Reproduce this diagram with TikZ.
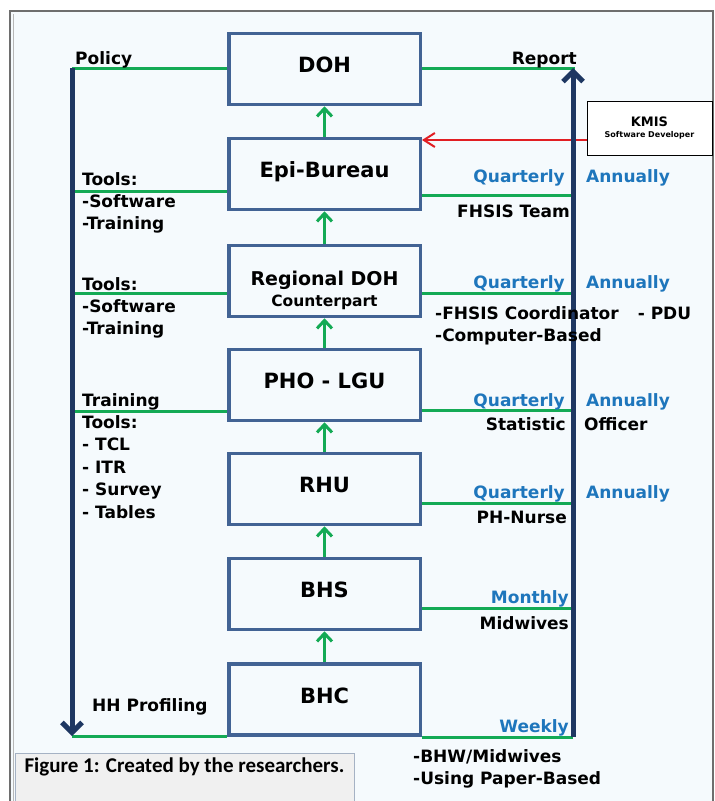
\documentclass[tikz,border=0pt]{standalone}
\usepackage{fontspec}
\setmainfont{DejaVu Sans}
\newfontfamily\capfont{Carlito}
\usetikzlibrary{arrows.meta}
\definecolor{bg}{RGB}{245,250,253}
\definecolor{boxc}{RGB}{66,99,148}
\definecolor{navy}{RGB}{30,55,98}
\definecolor{grn}{RGB}{20,170,85}
\definecolor{qblue}{RGB}{30,118,188}
\definecolor{redc}{RGB}{225,30,35}
\definecolor{framec}{RGB}{110,110,110}
\definecolor{capfill}{RGB}{240,240,240}
\definecolor{capborder}{RGB}{165,178,196}
\begin{document}
\begin{tikzpicture}[x=1pt,y=-1pt,
  level/.style={draw=boxc, line width=3.5pt, minimum width=191.5pt, minimum height=71pt,
    inner sep=0pt, outer sep=1.75pt, text height=16pt, text depth=8.7pt,
    font=\fontsize{21}{25}\selectfont\bfseries},
  gline/.style={draw=grn, line width=3pt},
  garrow/.style={draw=grn, line width=3pt, -{Straight Barb[length=8pt,width=15pt]}},
  navyarrow/.style={draw=navy, line width=5pt, -{Straight Barb[length=10pt,width=20pt]}},
  redarrow/.style={draw=redc, line width=2pt, -{Straight Barb[length=11pt,width=14pt]}},
  lab/.style={inner sep=0pt, font=\fontsize{17}{22.4}\selectfont\bfseries, align=left},
  qlab/.style={lab, text=qblue},
]
\useasboundingbox (0,0) rectangle (715,801);
\fill[white] (0,0) rectangle (715,801);
\fill[bg] (10,11) rectangle (713,801);
\draw[framec, line width=1.5pt] (10,11) rectangle (713,830);
\draw[framec!50, line width=0.7pt] (13.5,14) -- (13.5,801);

% boxes
\node[level] (doh) at (324.5,69) {DOH};
\node[level] (epi) at (324.5,174) {Epi-Bureau};
\node[level] (reg) at (324.5,281) {};
\node[inner sep=0pt, font=\fontsize{19}{22}\selectfont\bfseries, anchor=base] (regt1) at (324.5,285) {Regional DOH};
\node[inner sep=0pt, font=\fontsize{15.5}{20}\selectfont\bfseries, anchor=base] (regt2) at (324.5,306) {Counterpart};
\node[level] (pho) at (324.5,385) {PHO - LGU};
\node[level] (rhu) at (324.5,489) {RHU};
\node[level] (bhs) at (324.5,594) {BHS};
\node[level] (bhc) at (324.5,699.5) {BHC};

% KMIS
\node[draw=black, line width=0.8pt, fill=white, minimum width=125pt, minimum height=54pt,
  inner sep=0pt, align=center] (kmis) at (649.5,128)
  {{\fontsize{13}{15}\selectfont\bfseries KMIS}\\[-1pt]{\fontsize{8}{10}\selectfont\bfseries Software Developer}};

% green up arrows
\draw[garrow] (epi.north) -- (doh.south);
\draw[garrow] (reg.north) -- (epi.south);
\draw[garrow] (pho.north) -- (reg.south);
\draw[garrow] (rhu.north) -- (pho.south);
\draw[garrow] (bhs.north) -- (rhu.south);
\draw[garrow] (bhc.north) -- (bhs.south);

% coordinates on left and right trunks
\coordinate (ltop) at (72,68);
\coordinate (l2) at (72,191);
\coordinate (l3) at (72,293);
\coordinate (l4) at (72,411);
\coordinate (lbot) at (72,736);
\coordinate (rtop) at (575,68);
\coordinate (r2) at (573,195);
\coordinate (r3) at (573,293);
\coordinate (r4) at (573,410);
\coordinate (r5) at (573,503);
\coordinate (r6) at (573,608);
\coordinate (rbot) at (573,737);
\coordinate (kred) at (587,140);

% green branch lines
\draw[gline] (ltop) -- (ltop -| doh.west);
\draw[gline] (l2) -- (l2 -| epi.west);
\draw[gline] (l3) -- (l3 -| reg.west);
\draw[gline] (l4) -- (l4 -| pho.west);
\draw[gline] (lbot) -- (lbot -| bhc.west);
\draw[gline] (doh.east |- rtop) -- (rtop);
\draw[gline] (epi.east |- r2) -- (r2);
\draw[gline] (reg.east |- r3) -- (r3);
\draw[gline] (pho.east |- r4) -- (r4);
\draw[gline] (rhu.east |- r5) -- (r5);
\draw[gline] (bhs.east |- r6) -- (r6);
\draw[gline] (bhc.east |- rbot) -- (rbot);

% red arrow
\draw[redarrow] (kred) -- (kred -| epi.east);

% navy trunks
\draw[navyarrow] (ltop) -- (lbot);
\draw[navyarrow] (rbot) -- (rbot |- rtop);

% left labels (base = last line's baseline)
\node[lab, anchor=base west] (policy) at (75,64) {Policy};
\node[lab, anchor=base west] (tools1) at (82,229.8) {Tools:\\-Software\\-Training};
\node[lab, anchor=base west] (tools2) at (82,334.8) {Tools:\\-Software\\-Training};
\node[lab, anchor=base west] (tools3) at (82,518) {Training\\Tools:\\- TCL\\- ITR\\- Survey\\- Tables};
\node[lab, anchor=base west] (hh) at (92,711) {HH Profiling};

% right labels
\node[lab, anchor=base east] (report) at (577,64) {Report};
\node[qlab, anchor=base east] (q1) at (565,182) {Quarterly};
\node[qlab, anchor=base west] (a1) at (586,182) {Annually};
\node[lab, anchor=base east] (fhsis) at (570,217) {FHSIS Team};
\node[qlab, anchor=base east] (q2) at (565,288) {Quarterly};
\node[qlab, anchor=base west] (a2) at (586,288) {Annually};
\node[lab, anchor=base west] (coord) at (435,341.4) {-FHSIS Coordinator\hspace{19pt}- PDU\\-Computer-Based};
\node[qlab, anchor=base east] (q3) at (565,406) {Quarterly};
\node[qlab, anchor=base west] (a3) at (586,406) {Annually};
\node[lab, anchor=base east] (stat) at (566,430) {Statistic};
\node[lab, anchor=base west] (off) at (584,430) {Officer};
\node[qlab, anchor=base east] (q4) at (565,498) {Quarterly};
\node[qlab, anchor=base west] (a4) at (586,498) {Annually};
\node[lab, anchor=base east] (phn) at (567,523) {PH-Nurse};
\node[qlab, anchor=base east] (mon) at (569,603) {Monthly};
\node[lab, anchor=base east] (mid) at (569,629) {Midwives};
\node[qlab, anchor=base east] (wk) at (569,732) {Weekly};
\node[lab, anchor=base west] (bhw) at (413,784.4) {-BHW/Midwives\\-Using Paper-Based};

% caption
\draw[capborder, fill=capfill, line width=1pt] (15,753) rectangle (354,812);
\node[inner sep=0pt, anchor=base, font=\capfont\fontsize{21}{24}\selectfont\bfseries] (cap) at (184.5,772) {Figure 1: Created by the researchers.};
\end{tikzpicture}
\end{document}
